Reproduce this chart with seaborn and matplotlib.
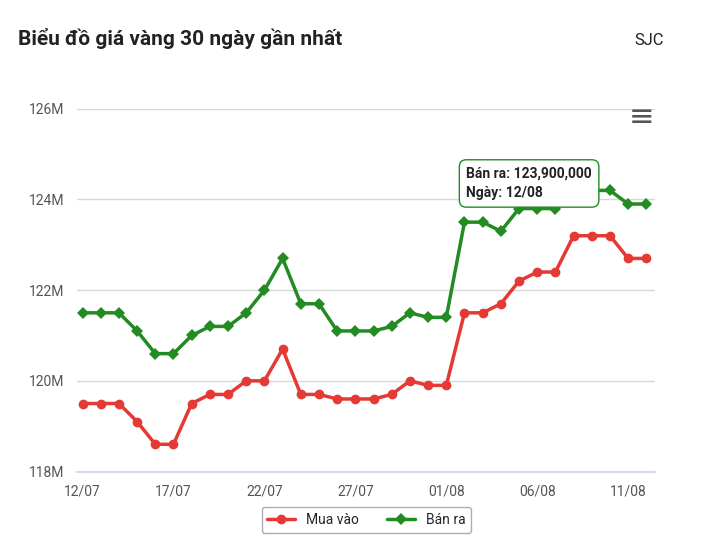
import matplotlib
matplotlib.use("Agg")
import matplotlib.pyplot as plt
import seaborn as sns
import pandas as pd
import numpy as np

dates = ["12/07","13/07","14/07","15/07","16/07","17/07","18/07","19/07","20/07","21/07","22/07",
         "23/07","24/07","25/07","26/07","27/07","28/07","29/07","30/07","31/07","01/08","02/08",
         "03/08","04/08","05/08","06/08","07/08","08/08","09/08","10/08","11/08","12/08"]
mua_vao = [119.5,119.5,119.5,119.1,118.6,118.6,119.5,119.7,119.7,120.0,120.0,120.7,119.7,119.7,119.6,119.6,
           119.6,119.7,120.0,119.9,119.9,121.5,121.5,121.7,122.2,122.4,122.4,123.2,123.2,123.2,122.7,122.7]
ban_ra = [121.5,121.5,121.5,121.1,120.6,120.6,121.0,121.2,121.2,121.5,122.0,122.7,121.7,121.7,121.1,121.1,
          121.1,121.2,121.5,121.4,121.4,123.5,123.5,123.3,123.8,123.8,123.8,124.2,124.2,124.2,123.9,123.9]
tick_labels = ["12/07","17/07","22/07","27/07","01/08","06/08","11/08"]

sns.set_theme(style="white")
plt.rcParams['font.family'] = ['Roboto', 'DejaVu Sans']

df = pd.DataFrame({"x": np.arange(len(dates)), "Mua vào": mua_vao, "Bán ra": ban_ra})
fig = plt.figure(figsize=(7.01, 5.58), dpi=100)
ax = fig.add_axes([0.11, 0.155, 0.825, 0.65])
sns.lineplot(data=df, x="x", y="Mua vào", ax=ax, color="#e53935", marker="o", markersize=7,
             markeredgewidth=0, linewidth=2.5, label="Mua vào")
sns.lineplot(data=df, x="x", y="Bán ra", ax=ax, color="#228b22", marker="D", markersize=6,
             markeredgewidth=0, linewidth=2.5, label="Bán ra")
ax.set_ylim(118, 126)
ax.set_xlim(-0.3, 31.5)
ax.set_yticks([118, 120, 122, 124, 126])
ax.set_yticklabels([f"{v}M" for v in [118, 120, 122, 124, 126]], color="#555", fontsize=10)
ax.set_xticks([dates.index(t) for t in tick_labels])
ax.set_xticklabels(tick_labels, color="#555", fontsize=10)
ax.grid(axis="y", color="#d8d8d8", linewidth=1)
for s in ["top", "right", "left"]:
    ax.spines[s].set_visible(False)
ax.spines["bottom"].set_color("#ccd6eb")
ax.tick_params(axis="x", length=6, color="#ccd6eb")
ax.set_xlabel(""); ax.set_ylabel("")
leg = ax.legend(loc="upper center", bbox_to_anchor=(0.5, -0.08), ncol=2, frameon=True, fontsize=10)
leg.get_frame().set_edgecolor("#999"); leg.get_frame().set_linewidth(1)

fig.text(0.025, 0.92, "Biểu đồ giá vàng 30 ngày gần nhất", fontsize=15, fontweight="bold", color="#222")
fig.text(0.905, 0.92, "SJC", fontsize=12, color="#222")
fig.text(0.915, 0.775, "≡", fontsize=22, color="#555", ha="center")
ax.text(21.1, 124.05, "Bán ra: 123,900,000\nNgày: 12/08", fontsize=10, color="#222", fontweight="bold",
        bbox=dict(boxstyle="round,pad=0.5", fc="white", ec="#228b22", lw=1), linespacing=1.5, zorder=10)
fig.savefig("out.png", dpi=100)
